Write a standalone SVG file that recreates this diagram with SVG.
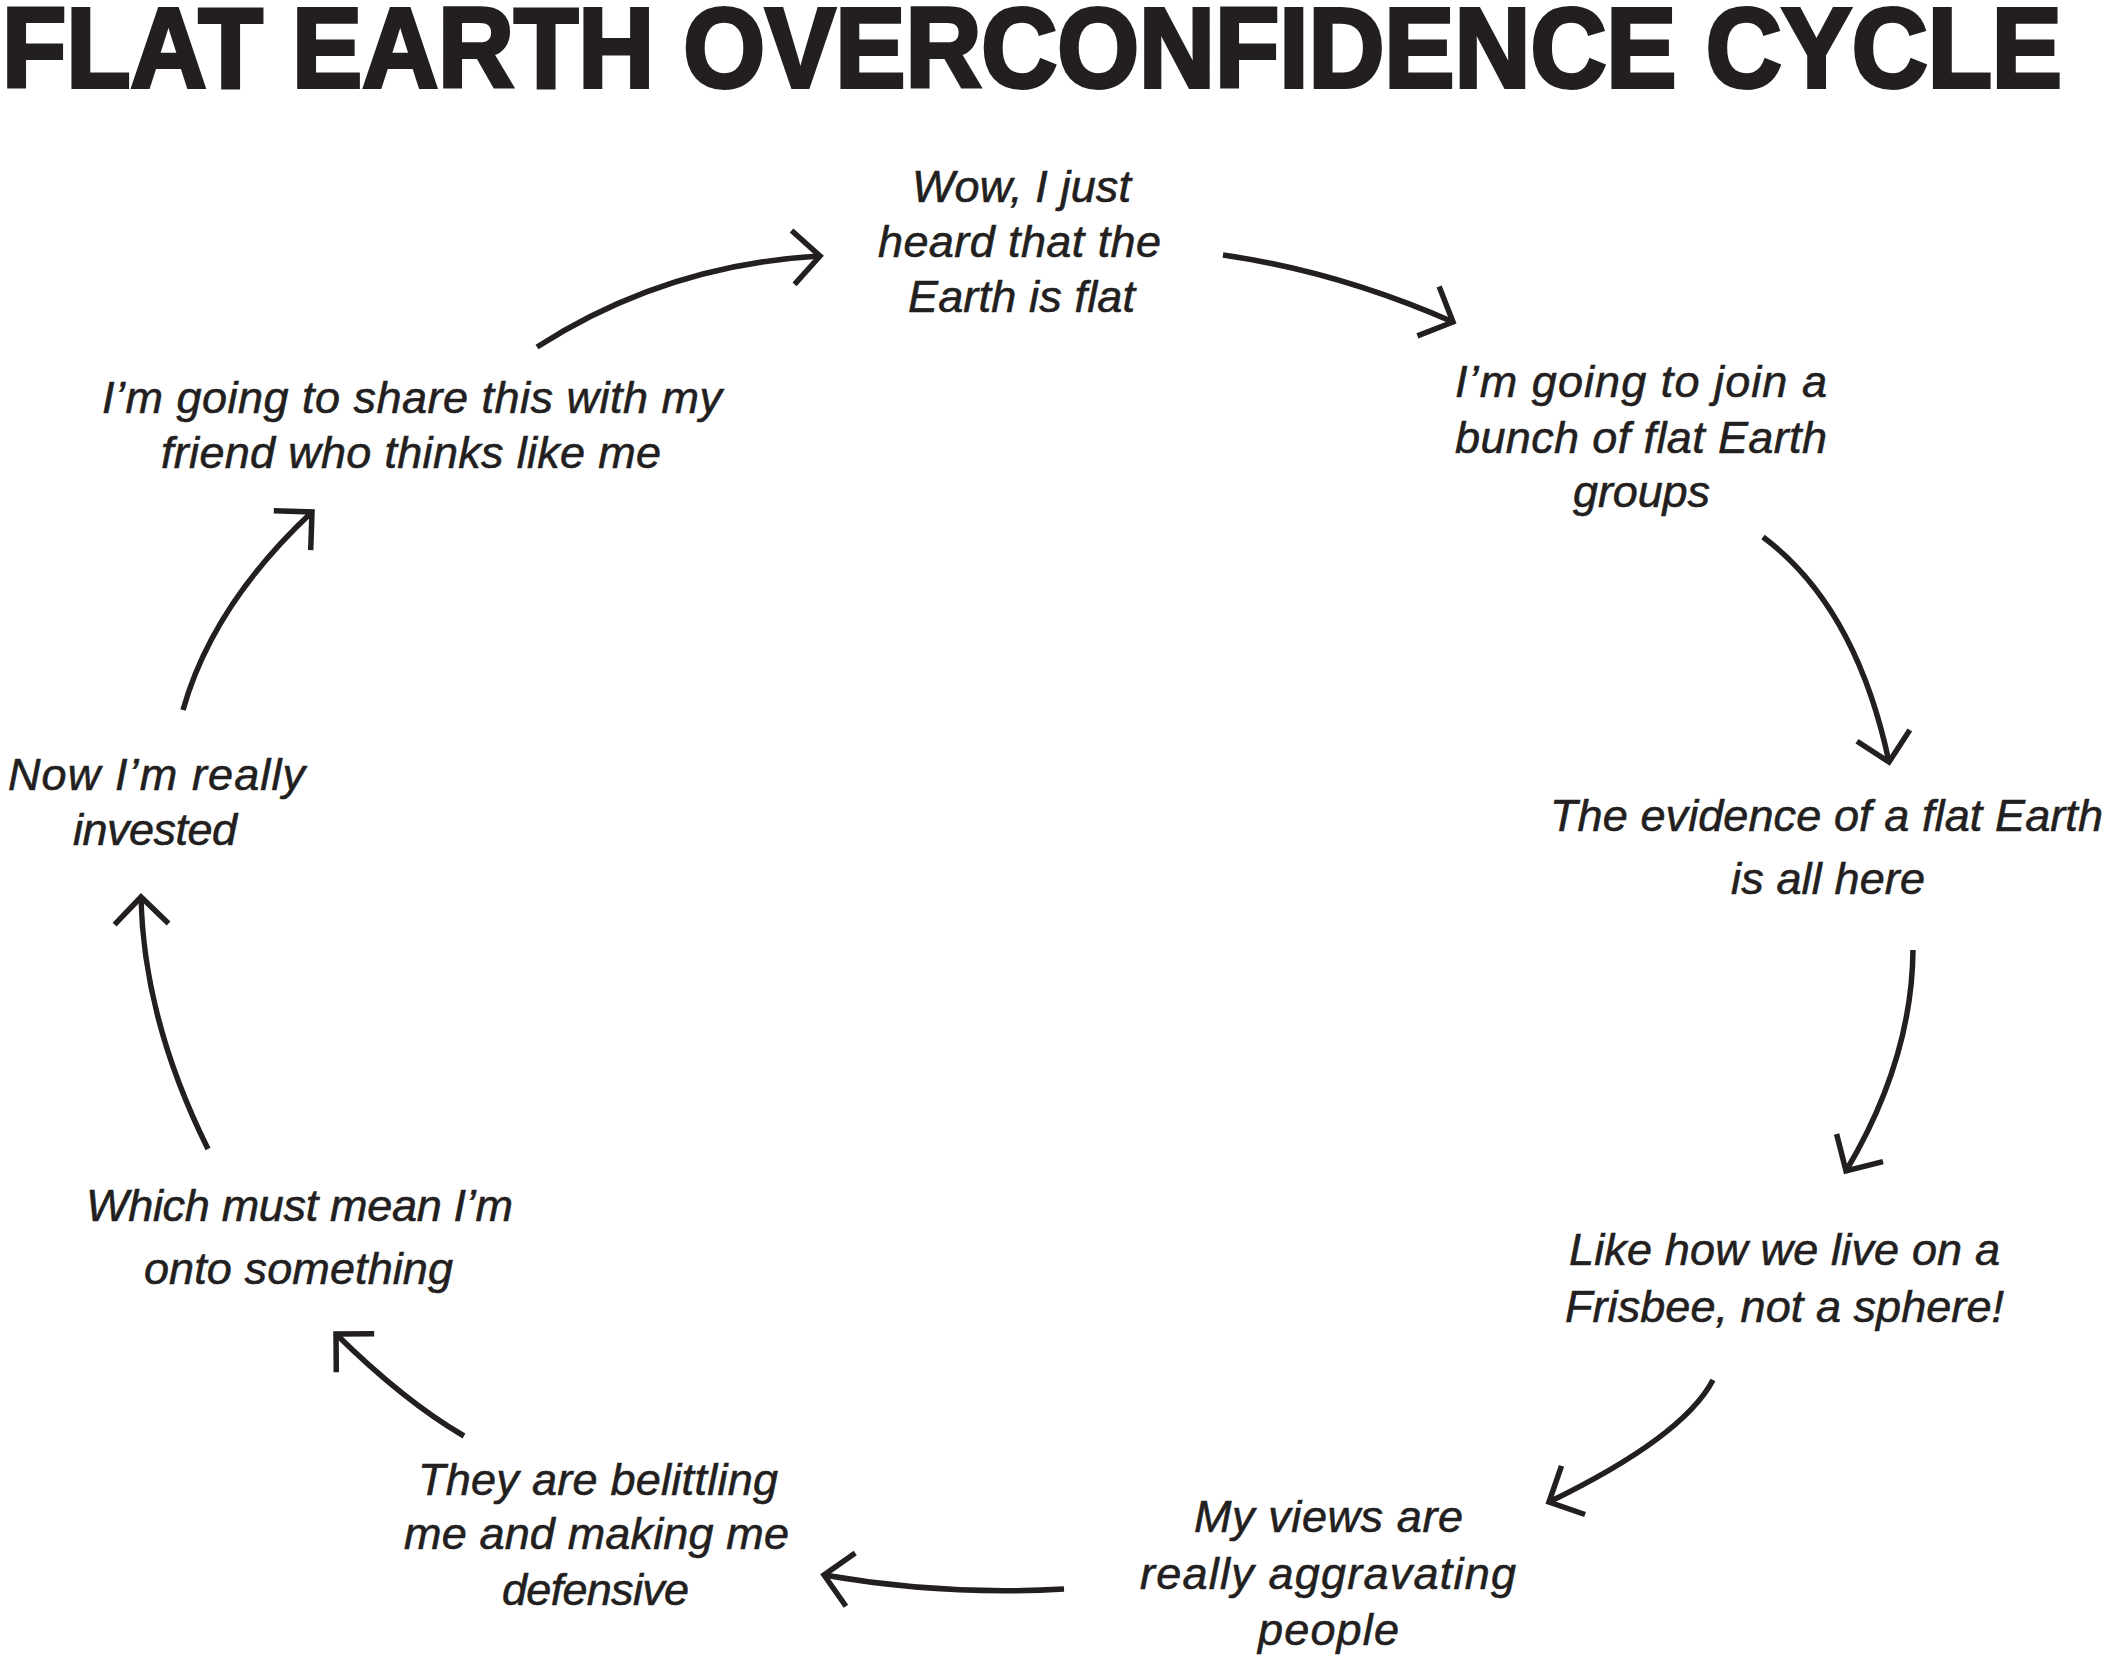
<svg xmlns="http://www.w3.org/2000/svg" width="2107" height="1660" viewBox="0 0 2107 1660">
<style>
.title{font-family:"Liberation Sans",Arial,sans-serif;font-weight:bold;font-size:113px;fill:#231f20;stroke:#231f20;stroke-width:4;stroke-linejoin:miter}
.lbl{font-family:"Liberation Sans",Arial,sans-serif;font-style:italic;font-size:45px;fill:#231f20;stroke:#231f20;stroke-width:0.6}
.arr{fill:none;stroke:#231f20;stroke-width:5.5;stroke-linecap:butt}
</style>
<defs>
<marker id="head" markerUnits="userSpaceOnUse" orient="auto" refX="0" refY="0" markerWidth="80" markerHeight="80" viewBox="-40 -40 80 80" overflow="visible">
<path d="M -27 -27 L 0 0 L -27 27" fill="none" stroke="#231f20" stroke-width="5.5" stroke-linejoin="miter"/>
</marker>
</defs>
<rect width="2107" height="1660" fill="#ffffff"/>
<text class="title" x="2" y="87" textLength="2060" lengthAdjust="spacingAndGlyphs">FLAT EARTH OVERCONFIDENCE CYCLE</text>

<g id="connectors">
<path class="arr" marker-end="url(#head)" d="M 537 347 Q 665.5 264.5 820 256"/>
<path class="arr" marker-end="url(#head)" d="M 1223 255 Q 1338 271.5 1453 322"/>
<path class="arr" marker-end="url(#head)" d="M 1763 537 Q 1856 606.5 1889 762"/>
<path class="arr" marker-end="url(#head)" d="M 1913 950 Q 1912 1060 1846 1171"/>
<path class="arr" marker-end="url(#head)" d="M 1713 1380 Q 1683 1437 1549 1502"/>
<path class="arr" marker-end="url(#head)" d="M 1064 1589 Q 944 1596 824 1575"/>
<path class="arr" marker-end="url(#head)" d="M 464 1436 Q 404 1401 336 1334"/>
<path class="arr" marker-end="url(#head)" d="M 208 1149 Q 143.5 1019 141 897"/>
<path class="arr" marker-end="url(#head)" d="M 183 710 Q 212.5 605 312 512"/>
</g>

<g id="node-wow">
<text class="lbl" x="912" y="202" textLength="219" lengthAdjust="spacing">Wow, I just</text>
<text class="lbl" x="878" y="257" textLength="283" lengthAdjust="spacing">heard that the</text>
<text class="lbl" x="908" y="312" textLength="227" lengthAdjust="spacing">Earth is flat</text>
</g>
<g id="node-join">
<text class="lbl" x="1455" y="397" textLength="372" lengthAdjust="spacing">I’m going to join a</text>
<text class="lbl" x="1455" y="453" textLength="372" lengthAdjust="spacing">bunch of flat Earth</text>
<text class="lbl" x="1573" y="507" textLength="137" lengthAdjust="spacing">groups</text>
</g>
<g id="node-evidence">
<text class="lbl" x="1550" y="831" textLength="553" lengthAdjust="spacing">The evidence of a flat Earth</text>
<text class="lbl" x="1731" y="894" textLength="194" lengthAdjust="spacing">is all here</text>
</g>
<g id="node-frisbee">
<text class="lbl" x="1569" y="1265" textLength="431" lengthAdjust="spacing">Like how we live on a</text>
<text class="lbl" x="1565" y="1322" textLength="439" lengthAdjust="spacing">Frisbee, not a sphere!</text>
</g>
<g id="node-views">
<text class="lbl" x="1194" y="1532" textLength="269" lengthAdjust="spacing">My views are</text>
<text class="lbl" x="1140" y="1589" textLength="376" lengthAdjust="spacing">really aggravating</text>
<text class="lbl" x="1258" y="1645" textLength="141" lengthAdjust="spacing">people</text>
</g>
<g id="node-belittling">
<text class="lbl" x="418" y="1495" textLength="360" lengthAdjust="spacing">They are belittling</text>
<text class="lbl" x="404" y="1549" textLength="385" lengthAdjust="spacing">me and making me</text>
<text class="lbl" x="502" y="1605" textLength="187" lengthAdjust="spacing">defensive</text>
</g>
<g id="node-onto">
<text class="lbl" x="86" y="1221" textLength="427" lengthAdjust="spacing">Which must mean I’m</text>
<text class="lbl" x="144" y="1284" textLength="309" lengthAdjust="spacing">onto something</text>
</g>
<g id="node-invested">
<text class="lbl" x="8" y="790" textLength="297" lengthAdjust="spacing">Now I’m really</text>
<text class="lbl" x="73" y="845" textLength="164" lengthAdjust="spacing">invested</text>
</g>
<g id="node-share">
<text class="lbl" x="102" y="413" textLength="620" lengthAdjust="spacing">I’m going to share this with my</text>
<text class="lbl" x="161" y="468" textLength="500" lengthAdjust="spacing">friend who thinks like me</text>
</g>
</svg>
